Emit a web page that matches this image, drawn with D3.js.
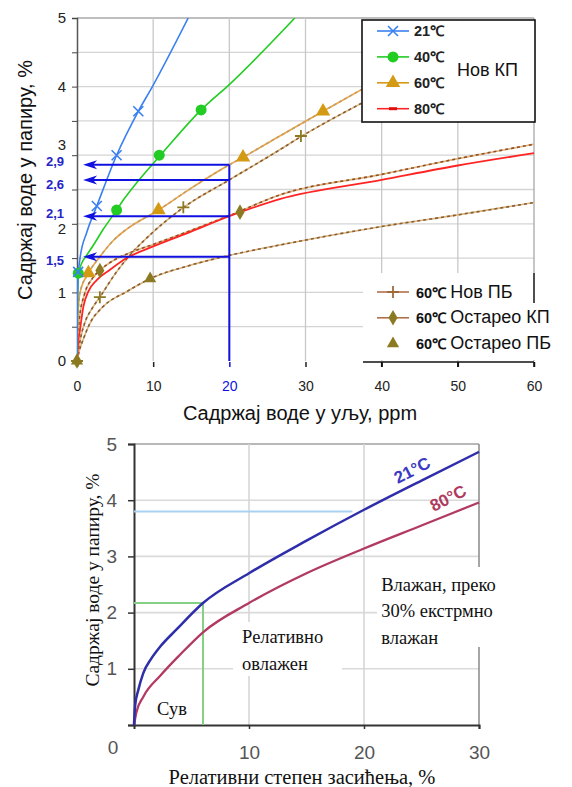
<!DOCTYPE html>
<html>
<head>
<meta charset="utf-8">
<script src="https://cdn.jsdelivr.net/npm/d3@7"></script>
<style>
  body { margin: 0; background: #fff; }
  svg { display: block; }
</style>
</head>
<body>
<svg id="chart" width="572" height="787"></svg>
<script>
// ---- data: top chart (water in paper vs water in oil, ppm) ----
const xTicksTop = [0, 10, 20, 30, 40, 50, 60];
const yTicksTop = [0, 0.5, 1, 1.5, 2, 2.5, 3, 3.5, 4, 4.5, 5];

const novKP21 = [[0,0],[0.05,0.8],[0.15,1.24],[0.4,1.5],[1.3,1.88],[2.6,2.26],[5.2,3.0],[8.05,3.64],[9.9,4.0],[14.6,5.0]];
const novKP40 = [[0,0],[0.05,0.7],[0.17,1.25],[0.6,1.42],[1.2,1.53],[2.1,1.68],[3.45,1.92],[5.2,2.2],[6.1,2.35],[8,2.62],[10,2.88],[10.8,2.98],[16.3,3.66],[20.1,4.04],[28.6,5.0]];
const novKP60 = [[0,0],[0.1,0.6],[0.4,1.0],[1.5,1.28],[3,1.52],[4.8,1.76],[6.5,1.92],[10.7,2.2],[15,2.52],[20,2.86],[21.8,2.97],[26,3.24],[32.3,3.64],[37.4,3.96]];
const novKP80 = [[0,0],[0.1,0.2],[0.39,0.45],[0.83,0.79],[1.48,1.01],[2.59,1.18],[4.33,1.33],[6.52,1.5],[10,1.67],[14.4,1.86],[20,2.11],[26.6,2.36],[40,2.64],[50,2.85],[60,3.03]];
const novPB60 = [[0,0],[0.5,0.35],[1,0.55],[2,0.77],[3,0.93],[5,1.27],[7,1.55],[9.6,1.84],[14,2.24],[20,2.64],[26.2,3.05],[29.4,3.27],[37.4,3.76]];
const starKP60 = [[0,0],[0.3,0.6],[1,0.98],[2,1.2],[3,1.32],[5,1.48],[7,1.58],[10,1.7],[14.4,1.88],[20,2.12],[26.6,2.42],[40,2.72],[50,2.95],[60,3.16]];
const starPB60 = [[0,0],[0.3,0.15],[0.8,0.31],[1.7,0.55],[3.4,0.79],[6.5,1.01],[9.6,1.2],[15,1.4],[20,1.54],[26.6,1.69],[40,1.96],[50,2.13],[60,2.31]];

const marks21 = [[0.15,1.3],[2.6,2.26],[5.2,3.0],[8.05,3.64]];
const marks40 = [[0.17,1.28],[5.2,2.2],[10.8,3.0],[16.3,3.66]];
const marks60 = [[1.5,1.28],[10.7,2.2],[21.8,2.97],[32.3,3.64]];
const marksPB = [[0,0],[3,0.93],[13.96,2.24],[29.4,3.28]];
const marksStarKP = [[0,0],[3,1.32],[21.4,2.17]];
const marksStarPB = [[0,0],[9.6,1.2]];

const readX = 20;
const readLevels = [2.86, 2.64, 2.11, 1.52];
const readLabels = ["2,9", "2,6", "2,1", "1,5"];

const legendTopLabels = ["21℃", "40℃", "60℃", "80℃"];
const legendTopGroup = "Нов КП";
const legendBotTemps = ["60℃", "60℃", "60℃"];
const legendBotNames = ["Нов ПБ", "Остарео КП", "Остарео ПБ"];

// ---- data: bottom chart (water in paper vs relative saturation) ----
const xTicksBot = [10, 20, 30];
const yTicksBot = [1, 2, 3, 4, 5];
const sat21 = [[0,0],[0.1,0.35],[0.37,0.62],[0.8,0.92],[1.5,1.18],[2.3,1.4],[3.7,1.7],[6,2.17],[10,2.7],[15,3.28],[20,3.83],[25,4.35],[30,4.86]];
const sat80 = [[0,0],[0.2,0.22],[0.8,0.5],[2.3,0.88],[4,1.25],[6,1.65],[10,2.17],[15,2.7],[20,3.14],[25,3.55],[30,3.96]];
const wetLevel = 3.8, wetLevelEnd = 19;
const dryBox = [6, 2.17];
const zoneTexts = [
  { x: 2.0, y: 0.3, lines: ["Сув"] },
  { x: 9.4, y: 1.57, lines: ["Релативно", "овлажен"] },
  { x: 21.5, y: 2.5, lines: ["Влажан, преко", "30% екстрмно", "влажан"] }
];

const svg = d3.select("#chart");
const sans = "'Liberation Sans', Arial, sans-serif";
const serif = "'Liberation Serif', 'Times New Roman', serif";

// ================= TOP CHART =================
const xT = d3.scaleLinear().domain([0, 60]).range([77, 534]);
const yT = d3.scaleLinear().domain([0, 5]).range([361, 18]);
const topG = svg.append("g");

topG.append("defs").append("clipPath").attr("id", "clipTop")
  .append("rect").attr("x", xT(0)).attr("y", yT(5)).attr("width", xT(60) - xT(0)).attr("height", yT(0) - yT(5));

// grid
topG.selectAll("line.hg").data(yTicksTop.slice(1)).enter().append("line")
  .attr("x1", xT(0)).attr("x2", xT(60)).attr("y1", d => yT(d)).attr("y2", d => yT(d))
  .attr("stroke", d => d === 5 ? "#a8a8a8" : "#d4d4d4").attr("stroke-width", 1.3);
topG.selectAll("line.vg").data(xTicksTop.slice(1)).enter().append("line")
  .attr("x1", d => xT(d)).attr("x2", d => xT(d)).attr("y1", yT(0)).attr("y2", yT(5))
  .attr("stroke", d => d === 60 ? "#a8a8a8" : "#c8c8c8").attr("stroke-width", 1.3);

// axes
const yAxT = topG.append("g").attr("transform", `translate(${xT(0)},0)`)
  .call(d3.axisLeft(yT).tickValues(yTicksTop).tickSize(5).tickPadding(6)
    .tickFormat(d => Number.isInteger(d) ? d : ""));
yAxT.select(".domain").attr("stroke", "#555").attr("stroke-width", 1.5);
yAxT.selectAll(".tick line").attr("stroke", "#444");
yAxT.selectAll("text").attr("font-family", sans).attr("font-size", 15).attr("fill", "#222")
  .attr("transform", d => d === 3 ? "translate(0,-11)" : d === 2 ? "translate(0,5)" : null);

const xAxT = topG.append("g").attr("transform", `translate(0,${yT(0) + 1})`)
  .call(d3.axisBottom(xT).tickValues(xTicksTop).tickSize(5).tickPadding(14));
xAxT.select(".domain").remove();
xAxT.selectAll(".tick line").attr("stroke", d => d === readX ? "#1010e0" : "#222").attr("stroke-width", 1.5);
xAxT.selectAll("text").attr("font-family", sans).attr("font-size", 14)
  .attr("fill", d => d === readX ? "#1010e0" : "#222");

// curves
const lineT = d3.line().x(d => xT(d[0])).y(d => yT(d[1])).curve(d3.curveMonotoneX);
const curves = topG.append("g").attr("clip-path", "url(#clipTop)").attr("fill", "none");
function twoTone(data, base, dash, w) {
  curves.append("path").attr("d", lineT(data)).attr("stroke", base).attr("stroke-width", w);
  curves.append("path").attr("d", lineT(data)).attr("stroke", dash).attr("stroke-width", w)
    .attr("stroke-dasharray", "3,3");
}
twoTone(starPB60, "#d8b878", "#8a5a3a", 1.6);
twoTone(novPB60, "#d8b878", "#8a5a3a", 1.6);
twoTone(starKP60, "#d8b878", "#9a4a2a", 1.6);
curves.append("path").attr("d", lineT(novKP80)).attr("stroke", "#ff2424").attr("stroke-width", 1.8);
twoTone(novKP60, "#f4a236", "#b8a078", 1.6);
curves.append("path").attr("d", lineT(novKP40)).attr("stroke", "#22cc22").attr("stroke-width", 1.6);
curves.append("path").attr("d", lineT(novKP21)).attr("stroke", "#3a80f0").attr("stroke-width", 1.6);

// markers
function marker(g, type, cx, cy, color) {
  const t = `translate(${cx},${cy})`;
  if (type === "x") {
    g.append("path").attr("d", "M-5,-5L5,5M-5,5L5,-5").attr("transform", t)
      .attr("stroke", color).attr("stroke-width", 1.6).attr("fill", "none");
  } else if (type === "+") {
    g.append("path").attr("d", "M-6,0H6M0,-6V6").attr("transform", t)
      .attr("stroke", color).attr("stroke-width", 1.8).attr("fill", "none");
  } else if (type === "dash") {
    g.append("path").attr("d", "M-4,0H4").attr("transform", t)
      .attr("stroke", color).attr("stroke-width", 3).attr("fill", "none");
  } else {
    const sym = { circle: d3.symbolCircle, tri: d3.symbolTriangle, small: d3.symbolTriangle, dia: d3.symbolDiamond }[type];
    const size = { circle: 95, tri: 90, small: 65, dia: 70 }[type];
    g.append("path").attr("d", d3.symbol().type(sym).size(size)()).attr("transform", t).attr("fill", color);
  }
}
const mk = topG.append("g");
marksStarPB.forEach(d => marker(mk, "small", xT(d[0]), yT(d[1]), "#8c7a22"));
marksStarKP.forEach(d => marker(mk, "dia", xT(d[0]), yT(d[1]), "#8c7a22"));
marksPB.forEach(d => marker(mk, "+", xT(d[0]), yT(d[1]), "#8c7a22"));
marks60.forEach(d => marker(mk, "tri", xT(d[0]), yT(d[1]), "#d49a14"));
marks40.forEach(d => marker(mk, "circle", xT(d[0]), yT(d[1]), "#22cc22"));
marks21.forEach(d => marker(mk, "x", xT(d[0]), yT(d[1]), "#3a80f0"));

// reading lines at 20 ppm
const blue = "#1010e0";
const labelShift = [-3, 5, -3, 4];
const rd = topG.append("g");
rd.append("line").attr("x1", xT(readX)).attr("x2", xT(readX))
  .attr("y1", yT(0)).attr("y2", yT(d3.max(readLevels)))
  .attr("stroke", blue).attr("stroke-width", 2);
readLevels.forEach((v, i) => {
  const yy = yT(v), tip = xT(0.8);
  rd.append("line").attr("x1", xT(readX)).attr("x2", tip + 8).attr("y1", yy).attr("y2", yy)
    .attr("stroke", blue).attr("stroke-width", 2);
  rd.append("path").attr("d", `M${tip},${yy}L${tip + 14},${yy - 4.5}L${tip + 10},${yy}L${tip + 14},${yy + 4.5}Z`)
    .attr("fill", blue);
  rd.append("text").attr("x", 55).attr("y", yy + labelShift[i]).attr("dy", "0.35em").attr("text-anchor", "middle")
    .attr("font-family", sans).attr("font-size", 13).attr("font-weight", "bold").attr("fill", "#2424c8")
    .text(readLabels[i]);
});

// axis titles
topG.append("text").attr("x", 300).attr("y", 420).attr("text-anchor", "middle")
  .attr("font-family", sans).attr("font-size", 20).attr("fill", "#111").text("Садржај воде у уљу, ppm");
topG.append("text").attr("transform", "translate(32,180) rotate(-90)").attr("text-anchor", "middle")
  .attr("font-family", sans).attr("font-size", 20).attr("fill", "#111").text("Садржај воде у папиру, %");

// legend (new KP)
const lgT = topG.append("g");
lgT.append("rect").attr("x", 362).attr("y", 20).attr("width", 173).attr("height", 102)
  .attr("fill", "#fff").attr("stroke", "#111").attr("stroke-width", 1.6);
const legTopColors = ["#3a80f0", "#22cc22", "#d49a14", "#ff2424"];
const legTopMarks = ["x", "circle", "tri", "dash"];
legendTopLabels.forEach((lab, i) => {
  const yy = 31 + i * 25.9;
  lgT.append("line").attr("x1", 377).attr("x2", 409).attr("y1", yy).attr("y2", yy)
    .attr("stroke", legTopColors[i]).attr("stroke-width", 1.6);
  marker(lgT, legTopMarks[i], 393, yy, i === 3 ? "#e01010" : legTopColors[i]);
  lgT.append("text").attr("x", 414).attr("y", yy).attr("dy", "0.35em")
    .attr("font-family", sans).attr("font-size", 14.5).attr("font-weight", "bold").attr("fill", "#222").text(lab);
});
lgT.append("text").attr("x", 457).attr("y", 70).attr("dy", "0.35em")
  .attr("font-family", sans).attr("font-size", 18).attr("fill", "#111").text(legendTopGroup);

// legend (PB / aged)
const lgB = topG.append("g");
lgB.append("rect").attr("x", 363).attr("y", 273).attr("width", 209).attr("height", 87).attr("fill", "#fff");
lgB.append("line").attr("x1", xT(60)).attr("x2", xT(60)).attr("y1", 273).attr("y2", 303)
  .attr("stroke", "#222").attr("stroke-width", 1.6);
lgB.append("line").attr("x1", 363).attr("x2", xT(60)).attr("y1", yT(0) + 1).attr("y2", yT(0) + 1)
  .attr("stroke", "#111").attr("stroke-width", 1.6);
[40, 50, 60].forEach(v => lgB.append("line").attr("x1", xT(v)).attr("x2", xT(v))
  .attr("y1", yT(0) + 1).attr("y2", yT(0) + 6).attr("stroke", "#111").attr("stroke-width", 1.5));
const legBotMarks = ["+", "dia", "small"];
legendBotNames.forEach((name, i) => {
  const yy = 292 + i * 25.8;
  if (i < 2) {
    lgB.append("line").attr("x1", 377).attr("x2", 409).attr("y1", yy).attr("y2", yy)
      .attr("stroke", "#b07048").attr("stroke-width", 1.6);
  }
  marker(lgB, legBotMarks[i], 393, yy, i === 0 ? "#a06a3a" : "#8c7a22");
  const t = lgB.append("text").attr("x", 416).attr("y", yy).attr("dy", "0.35em")
    .attr("font-family", sans).attr("fill", "#111");
  t.append("tspan").attr("font-size", 14.5).attr("font-weight", "bold").text(legendBotTemps[i] + " ");
  t.append("tspan").attr("font-size", 18).text(name);
});

// ================= BOTTOM CHART =================
const xB = d3.scaleLinear().domain([0, 30]).range([134, 479]);
const yB = d3.scaleLinear().domain([0, 5]).range([725, 444]);
const botG = svg.append("g");

botG.selectAll("line.hg").data(yTicksBot).enter().append("line")
  .attr("x1", xB(0)).attr("x2", xB(30)).attr("y1", d => yB(d)).attr("y2", d => yB(d))
  .attr("stroke", d => d === 5 ? "#a0a0a0" : "#dadada").attr("stroke-width", 1.6);
botG.selectAll("line.vg").data(xTicksBot).enter().append("line")
  .attr("x1", d => xB(d)).attr("x2", d => xB(d)).attr("y1", yB(0)).attr("y2", yB(5))
  .attr("stroke", d => d === 30 ? "#909090" : "#d6d6d6").attr("stroke-width", 1.6);

// text background boxes
botG.append("rect").attr("x", 377).attr("y", 567).attr("width", 195).attr("height", 80).attr("fill", "#fff");
botG.append("rect").attr("x", 233).attr("y", 622).attr("width", 109).attr("height", 54).attr("fill", "#fff");

const yAxB = botG.append("g").attr("transform", `translate(${xB(0)},0)`)
  .call(d3.axisLeft(yB).tickValues([0].concat(yTicksBot)).tickSize(6).tickPadding(11)
    .tickFormat(d => d === 0 ? "" : d));
const xAxB = botG.append("g").attr("transform", `translate(0,${yB(0)})`)
  .call(d3.axisBottom(xB).tickValues(xTicksBot).tickSize(4).tickPadding(17));
[yAxB, xAxB].forEach(a => {
  a.select(".domain").attr("stroke", "#333").attr("stroke-width", 2);
  a.selectAll(".tick line").attr("stroke", "#333").attr("stroke-width", 1.5);
  a.selectAll("text").attr("font-family", sans).attr("font-size", 19).attr("fill", "#555");
});
botG.append("text").attr("x", 113).attr("y", 747).attr("dy", "0.35em").attr("text-anchor", "middle")
  .attr("font-family", sans).attr("font-size", 19).attr("fill", "#555").text("0");

// reference lines
botG.append("line").attr("x1", xB(0)).attr("x2", xB(wetLevelEnd)).attr("y1", yB(wetLevel)).attr("y2", yB(wetLevel))
  .attr("stroke", "#a9d2f2").attr("stroke-width", 2);
botG.append("path").attr("d", `M${xB(0)},${yB(dryBox[1])}H${xB(dryBox[0])}V${yB(0)}`)
  .attr("fill", "none").attr("stroke", "#84d084").attr("stroke-width", 2);

const lineB = d3.line().x(d => xB(d[0])).y(d => yB(d[1])).curve(d3.curveMonotoneX);
botG.append("path").attr("d", lineB(sat80)).attr("fill", "none").attr("stroke", "#b23a62").attr("stroke-width", 2.3);
botG.append("path").attr("d", lineB(sat21)).attr("fill", "none").attr("stroke", "#2e2eaa").attr("stroke-width", 2.5);

botG.append("text").attr("transform", "translate(412,470) rotate(-27)").attr("text-anchor", "middle")
  .attr("dy", "0.35em").attr("font-family", sans).attr("font-size", 17).attr("font-weight", "bold")
  .attr("fill", "#3a3ac4").text("21°C");
botG.append("text").attr("transform", "translate(448,498) rotate(-27)").attr("text-anchor", "middle")
  .attr("dy", "0.35em").attr("font-family", sans).attr("font-size", 17).attr("font-weight", "bold")
  .attr("fill", "#b03a5e").text("80°C");

zoneTexts.forEach(z => {
  z.lines.forEach((ln, i) => {
    botG.append("text").attr("x", xB(z.x)).attr("y", yB(z.y) + i * 26.5).attr("dy", "0.35em")
      .attr("font-family", serif).attr("font-size", 18.5).attr("fill", "#111").text(ln);
  });
});

botG.append("text").attr("x", 302).attr("y", 777).attr("dy", "0.35em").attr("text-anchor", "middle")
  .attr("font-family", serif).attr("font-size", 20.5).attr("fill", "#111").text("Релативни степен засићења, %");
botG.append("text").attr("transform", "translate(92,580) rotate(-90)").attr("text-anchor", "middle")
  .attr("dy", "0.35em").attr("font-family", serif).attr("font-size", 19.5).attr("fill", "#111")
  .text("Садржај воде у папиру, %");
</script>
</body>
</html>
